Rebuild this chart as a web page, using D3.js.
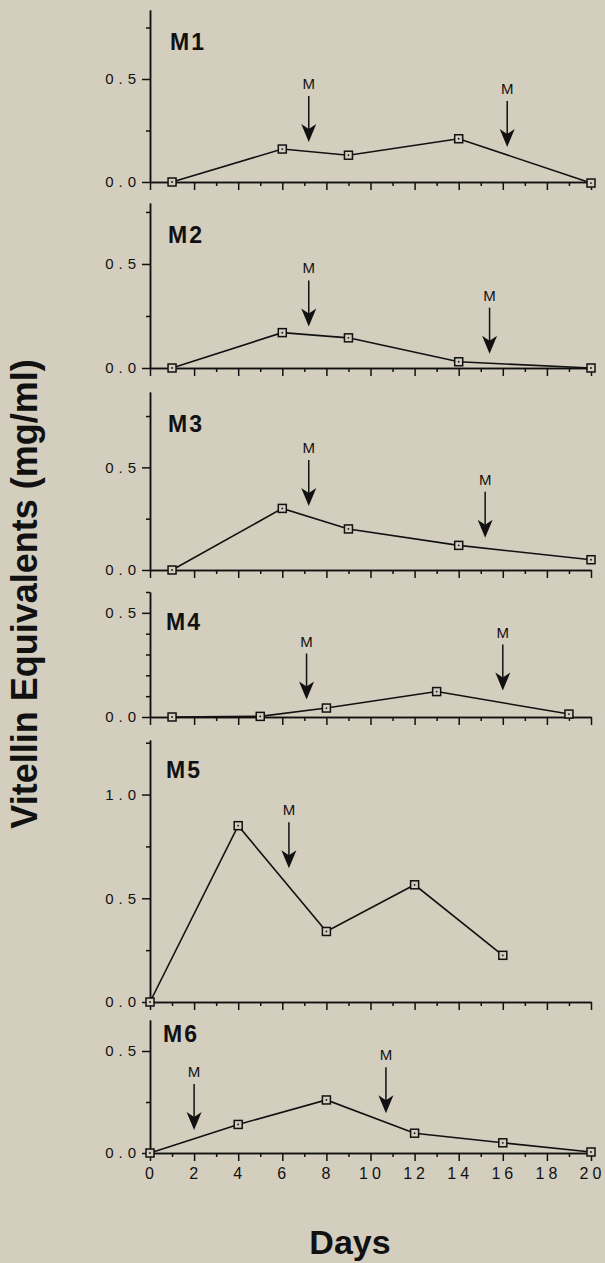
<!DOCTYPE html>
<html>
<head>
<meta charset="utf-8">
<script src="https://cdn.jsdelivr.net/npm/d3@7"></script>
<style>
  body { margin: 0; background: #d4cebf; }
  svg { display: block; }
  text { font-family: "Liberation Sans", Arial, Helvetica, sans-serif; fill: #111; }
</style>
</head>
<body>
<div class="canvas"></div>
<script>
// sampling days and vitellin equivalents (mg/ml) per animal
const m1Days = [1, 6, 9, 14, 20];
const m1Vit  = [0.0, 0.16, 0.13, 0.21, -0.005];
const m2Days = [1, 6, 9, 14, 20];
const m2Vit  = [0.0, 0.17, 0.145, 0.03, 0.0];
const m3Days = [1, 6, 9, 14, 20];
const m3Vit  = [0.0, 0.30, 0.20, 0.12, 0.05];
const m4Days = [1, 5, 8, 13, 19];
const m4Vit  = [0.0, 0.003, 0.043, 0.122, 0.014];
const m5Days = [0, 4, 8, 12, 16];
const m5Vit  = [0.0, 0.85, 0.34, 0.565, 0.225];
const m6Days = [0, 4, 8, 12, 16, 20];
const m6Vit  = [0.0, 0.14, 0.26, 0.097, 0.05, 0.005];

// molt arrows: day and value at arrow tip
const m1Molt = [7.2, 16.2];  const m1MoltAt = [0.194, 0.17];
const m2Molt = [7.2, 15.4];  const m2MoltAt = [0.20, 0.069];
const m3Molt = [7.2, 15.2];  const m3MoltAt = [0.312, 0.157];
const m4Molt = [7.1, 16.0];  const m4MoltAt = [0.084, 0.127];
const m5Molt = [6.3];        const m5MoltAt = [0.645];
const m6Molt = [2.0, 10.7];  const m6MoltAt = [0.113, 0.195];

const xTicksMajor = [0, 2, 4, 6, 8, 10, 12, 14, 16, 18, 20];
const xTicksMinor = [1, 3, 5, 7, 9, 11, 13, 15, 17, 19];
const yLabelTicks = [0, 0.5, 1.0];

// panel layout (pixels)
const panels = [
  {name: "M1", days: m1Days, vit: m1Vit, molt: m1Molt, moltAt: m1MoltAt, y0: 182, top: 10, max: 0.835, step: 0.25, lx: 170, ly: 50},
  {name: "M2", days: m2Days, vit: m2Vit, molt: m2Molt, moltAt: m2MoltAt, y0: 368, top: 203, max: 0.793, step: 0.25, lx: 168, ly: 243},
  {name: "M3", days: m3Days, vit: m3Vit, molt: m3Molt, moltAt: m3MoltAt, y0: 570, top: 392, max: 0.867, step: 0.25, lx: 168, ly: 432},
  {name: "M4", days: m4Days, vit: m4Vit, molt: m4Molt, moltAt: m4MoltAt, y0: 717, top: 592, max: 0.6, step: 0.1, lx: 166, ly: 630},
  {name: "M5", days: m5Days, vit: m5Vit, molt: m5Molt, moltAt: m5MoltAt, y0: 1002, top: 740, max: 1.263, step: 0.25, lx: 166, ly: 778},
  {name: "M6", days: m6Days, vit: m6Vit, molt: m6Molt, moltAt: m6MoltAt, y0: 1153, top: 1020, max: 0.652, step: 0.25, lx: 163, ly: 1042}
];

const width = 605, height = 1263;
const svg = d3.select(".canvas")
              .append("svg")
              .attr("width", width)
              .attr("height", height);

const x = d3.scaleLinear().domain([0, 20]).range([150, 591]);
const line = d3.line();

panels.forEach((p, i) => {
  const y = d3.scaleLinear().domain([0, p.max]).range([p.y0, p.top]);
  const g = svg.append("g");
  const last = i === panels.length - 1;

  // minor y ticks
  const minor = d3.range(p.step, p.max + 1e-6, p.step).filter(v => Math.abs(v % 0.5) > 1e-6 && Math.abs(v % 0.5 - 0.5) > 1e-6);
  g.append("g")
   .attr("transform", `translate(${x(0)},0)`)
   .call(d3.axisLeft(y).tickValues(minor).tickSize(4).tickSizeOuter(0).tickFormat(""));

  // major y ticks with labels
  g.append("g")
   .attr("class", "yax")
   .attr("transform", `translate(${x(0)},0)`)
   .call(d3.axisLeft(y).tickValues(yLabelTicks.filter(v => v <= p.max)).tickSize(8).tickSizeOuter(0).tickPadding(6).tickFormat(d3.format(".1f")));

  // x axis
  g.append("g")
   .attr("transform", `translate(0,${p.y0})`)
   .call(d3.axisBottom(x).tickValues(xTicksMinor).tickSize(4).tickSizeOuter(0).tickFormat(""));
  g.append("g")
   .attr("class", "xax")
   .attr("transform", `translate(0,${p.y0})`)
   .call(d3.axisBottom(x).tickValues(xTicksMajor).tickSize(8).tickSizeOuter(0).tickPadding(7).tickFormat(last ? d3.format("d") : ""));

  // panel label
  g.append("text")
   .attr("x", p.lx).attr("y", p.ly)
   .attr("font-size", 23).attr("font-weight", "bold")
   .attr("letter-spacing", 2)
   .text(p.name);

  // data line
  const pts = p.days.map((d, k) => [x(d), y(p.vit[k])]);
  g.append("path")
   .attr("d", line(pts))
   .attr("fill", "none").attr("stroke", "#111").attr("stroke-width", 1.6);

  const mk = g.selectAll(".mk").data(pts).enter().append("g")
              .attr("transform", d => `translate(${d[0]},${d[1]})`);
  mk.append("rect")
    .attr("x", -4).attr("y", -4).attr("width", 8).attr("height", 8)
    .attr("fill", "#d4cebf").attr("stroke", "#111").attr("stroke-width", 1.5);
  mk.append("circle").attr("r", 0.9).attr("fill", "#111");

  // molt arrows
  p.molt.forEach((d, k) => {
    const ax = x(d), tip = y(p.moltAt[k]), start = tip - 46;
    g.append("line")
     .attr("x1", ax).attr("x2", ax).attr("y1", start).attr("y2", tip - 10)
     .attr("stroke", "#111").attr("stroke-width", 1.5);
    g.append("path")
     .attr("d", `M${ax},${tip} L${ax - 7.5},${tip - 18} L${ax},${tip - 13} L${ax + 7.5},${tip - 18} Z`)
     .attr("fill", "#111");
    g.append("text")
     .attr("x", ax).attr("y", start - 7)
     .attr("text-anchor", "middle")
     .attr("font-size", 15)
     .text("M");
  });
});

svg.selectAll(".domain, .tick line").attr("stroke", "#111").attr("stroke-width", 1.5);
svg.selectAll(".yax text")
   .attr("font-size", 15).attr("letter-spacing", 5).attr("dx", 5).attr("fill", "#111");
svg.selectAll(".xax text")
   .attr("font-size", 16).attr("letter-spacing", 4).attr("dx", 1).attr("fill", "#111");

// axis titles
svg.append("text")
   .attr("transform", "translate(37,594) rotate(-90)")
   .attr("text-anchor", "middle")
   .attr("font-size", 36).attr("font-weight", "bold")
   .text("Vitellin Equivalents (mg/ml)");

svg.append("text")
   .attr("x", 350).attr("y", 1254)
   .attr("text-anchor", "middle")
   .attr("font-size", 34).attr("font-weight", "bold")
   .text("Days");
</script>
</body>
</html>
